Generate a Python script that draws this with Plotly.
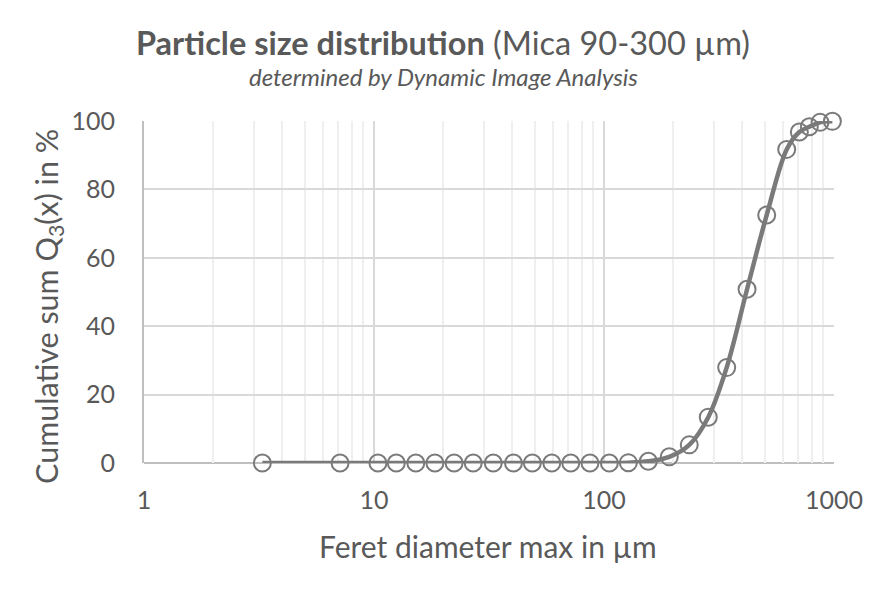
import plotly.graph_objects as go

# Data
feret_um = [3.27, 7.12, 10.4, 12.5, 15.2, 18.4, 22.3, 27.0, 33.0, 40.4, 48.8,
            59.3, 71.7, 86.9, 105.5, 127.6, 155.9, 192.3, 234.8, 284.0, 341.5,
            418.8, 509.8, 622.8, 707.0, 781.0, 869.5, 984.0]
q3_percent = [0.0, 0.0, 0.0, 0.0, 0.0, 0.0, 0.0, 0.0, 0.0, 0.0, 0.0,
              0.0, 0.0, 0.0, 0.0, 0.1, 0.5, 1.8, 5.3, 13.4, 27.9,
              50.8, 72.5, 91.7, 96.8, 98.3, 99.6, 99.9]
x_tickvals = [1, 10, 100, 1000]
x_ticktext = ["1", "10", "100", "1000"]
y_tickvals = [0, 20, 40, 60, 80, 100]

FONT = "Lato"
TXT = "#595959"
LINE = "#7a7a7a"

# page has an 8px body margin: figure is drawn at (8,8)
OFF = 8
PL, PR, PT, PB = 144, 834, 121, 463  # plot area in page pixels
PW, PH = PR - PL, PB - PT

def px(xp):
    return (xp - PL) / PW

def py(yp):
    return (PB - yp) / PH

fig = go.Figure()
fig.add_trace(go.Scatter(
    x=feret_um, y=q3_percent, mode="lines+markers",
    line=dict(color=LINE, width=4.5, shape="spline", smoothing=1.0),
    marker=dict(symbol="circle-open", size=17, color=LINE, line=dict(width=2, color=LINE)),
    showlegend=False, cliponaxis=False,
))

W, H = 886 - OFF, 591 - OFF
fig.update_layout(
    width=W, height=H,
    paper_bgcolor="white", plot_bgcolor="white",
    margin=dict(l=PL - OFF, r=W - (PR - OFF), t=PT - OFF, b=H - (PB - OFF)),
    font=dict(family=FONT, color=TXT),
    xaxis=dict(
        type="log", range=[0, 3], tickvals=x_tickvals, ticktext=x_ticktext,
        showgrid=True, gridcolor="#d9d9d9", gridwidth=1.5,
        minor=dict(showgrid=True, gridcolor="#efefef", gridwidth=1.5,
                   tickvals=[a * b for b in (1, 10, 100) for a in range(2, 10)]),
        showline=False, zeroline=False, ticks="",
        tickfont=dict(size=25, color=TXT, family=FONT), ticklabelstandoff=20,
    ),
    yaxis=dict(
        range=[0, 100], tickvals=y_tickvals,
        showgrid=True, gridcolor="#d9d9d9", gridwidth=1.5,
        showline=True, linecolor="#bfbfbf", linewidth=2, zeroline=False, ticks="",
        tickfont=dict(size=25, color=TXT, family=FONT), ticklabelstandoff=22,
    ),
    annotations=[
        dict(text="<b>Particle size distribution</b> (Mica 90-300 µm)",
             xref="paper", yref="paper", x=px(443), y=py(42),
             xanchor="center", yanchor="middle", showarrow=False,
             font=dict(size=32.5, color=TXT, family=FONT)),
        dict(text="<i>determined by Dynamic Image Analysis</i>",
             xref="paper", yref="paper", x=px(443), y=py(76),
             xanchor="center", yanchor="middle", showarrow=False,
             font=dict(size=24, color=TXT, family=FONT)),
        dict(text="Feret diameter max in µm",
             xref="paper", yref="paper", x=px(488), y=py(546),
             xanchor="center", yanchor="middle", showarrow=False,
             font=dict(size=30, color=TXT, family=FONT)),
        dict(text="Cumulative sum Q<sub>3</sub>(x) in %",
             xref="paper", yref="paper", x=px(48), y=py(307),
             xanchor="center", yanchor="middle", showarrow=False, textangle=-90,
             font=dict(size=30.5, color=TXT, family=FONT)),
    ],
)

fig.add_shape(type="line", xref="paper", yref="paper", x0=0, x1=1, y0=0, y1=0,
              line=dict(color="#bfbfbf", width=2), layer="below")

fig.write_html("out.html")
